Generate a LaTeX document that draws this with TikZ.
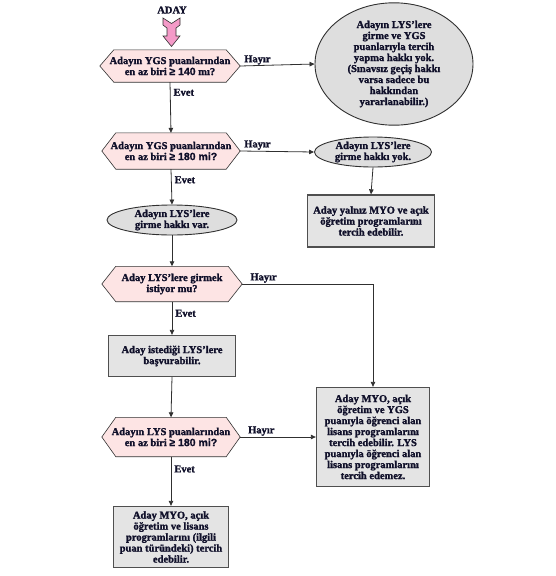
\documentclass[tikz,border=0pt]{standalone}
\usepackage{fontspec}
\setmainfont{Liberation Serif}
\newfontfamily\heavyfont{Liberation Serif Bold}[FakeBold=1.6]
\newfontfamily\numfont{Liberation Sans Bold}[FakeBold=1.2]
\usetikzlibrary{shapes.geometric,arrows.meta,backgrounds}
\definecolor{hexfill}{HTML}{FDE4E4}
\definecolor{grayfill}{HTML}{DEDEDE}
\definecolor{boxfill}{HTML}{E4E4E4}
\definecolor{linecol}{HTML}{303030}
\definecolor{txtcol}{HTML}{10102A}
\definecolor{arrowpink}{HTML}{F49AC8}
\begin{document}
\begin{tikzpicture}[x=1pt,y=-1pt,
  every node/.style={font=\fontsize{10.5}{11}\selectfont\heavyfont, text=txtcol, align=center, inner sep=0pt},
  hexnode/.style={rectangle},
  hexdraw/.style={draw=linecol, line width=0.6pt, fill=hexfill},
  ellnode/.style={draw=linecol, line width=0.9pt, fill=grayfill, ellipse},
  boxnode/.style={draw=linecol!85, line width=1.3pt, fill=boxfill, rectangle},
  conn/.style={draw=linecol, line width=0.8pt},
  arr/.style={conn, -{Triangle[length=5pt,width=4.5pt]}},
  lbl/.style={font=\fontsize{10.5}{11}\selectfont\heavyfont}
]
\useasboundingbox (0,0) rectangle (556,576);

\node (aday) at (172,10) {ADAY};
\draw[draw=linecol, line width=0.6pt, fill=arrowpink]
  (163,18) -- (171.5,23.5) -- (180,18) -- (180,25) -- (176,28) -- (176,36) -- (180,36)
  -- (171.5,46.5) -- (163,36) -- (167,36) -- (167,28) -- (163,25) -- cycle;

\node[hexnode, minimum width=140pt, minimum height=32pt] (d1) at (170,66)
  {Adayın YGS puanlarından\\en az biri {\numfont ≥ 140} mı?};
\node[ellnode, minimum width=158pt, minimum height=94pt] (e1) at (394,64)
  {Adayın LYS’lere\\girme ve YGS\\puanlarıyla tercih\\yapma hakkı yok.\\(Sınavsız geçiş hakkı\\varsa sadece bu\\hakkından\\yararlanabilir.)};

\node[hexnode, minimum width=138pt, minimum height=36pt] (d2) at (171,151)
  {Adayın YGS puanlarından\\en az biri {\numfont ≥ 180 mi?}};
\node[ellnode, minimum width=117pt, minimum height=30pt] (e2) at (373,152)
  {Adayın LYS’lere\\girme hakkı yok.};
\node[boxnode, minimum width=127pt, minimum height=52pt] (b1) at (371,221)
  {Aday yalnız MYO ve açık\\öğretim programlarını\\tercih edebilir.};

\node[ellnode, minimum width=130pt, minimum height=30pt] (e3) at (172,220)
  {Adayın LYS’lere\\girme hakkı var.};

\node[hexnode, minimum width=140pt, minimum height=35pt] (d3) at (172,284)
  {Aday LYS’lere girmek\\istiyor mu?};
\node[boxnode, minimum width=127pt, minimum height=41pt] (b2) at (172,356)
  {Aday istediği LYS’lere\\başvurabilir.};

\node[hexnode, minimum width=138pt, minimum height=39pt] (d4) at (171,437)
  {Adayın LYS puanlarından\\en az biri {\numfont ≥ 180 mi?}};
\node[boxnode, minimum width=113pt, minimum height=99pt] (b4) at (373,437)
  {Aday MYO, açık\\öğretim ve YGS\\puanıyla öğrenci alan\\lisans programlarını\\tercih edebilir. LYS\\puanıyla öğrenci alan\\lisans programlarını\\tercih edemez.};
\node[boxnode, minimum width=115pt, minimum height=61pt] (b5) at (171,537)
  {Aday MYO, açık\\öğretim ve lisans\\programlarını (ilgili\\puan türündeki) tercih\\edebilir.};

\begin{scope}[on background layer]
\foreach \h in {d1,d2,d3,d4}{
  \draw[hexdraw] (\h.west) -- ([xshift=14pt]\h.north west) -- ([xshift=-14pt]\h.north east)
    -- (\h.east) -- ([xshift=-14pt]\h.south east) -- ([xshift=14pt]\h.south west) -- cycle;
}
\end{scope}

% connectors
\draw[arr] (d1.east) -- (e1.west) node[pos=0.05, anchor=south west, lbl, yshift=1pt] {Hayır};
\draw[arr] (d1.south) -- (d2.north) node[pos=0.2, anchor=west, lbl, xshift=3pt] {Evet};
\draw[arr] (d2.east) -- (e2.west) node[pos=0.05, anchor=south west, lbl, yshift=1pt] {Hayır};
\draw[arr] (d2.south) -- (e3.north) node[pos=0.3, anchor=west, lbl, xshift=3pt] {Evet};
\draw[arr] (e2.south) -- (b1.north);
\draw[arr] (e3.south) -- (d3.north);
\draw[arr] (d3.east) -| (b4.north) node[pos=0.03, anchor=south west, lbl, yshift=1pt] {Hayır};
\draw[arr] (d3.south) -- (b2.north) node[pos=0.35, anchor=west, lbl, xshift=3pt] {Evet};
\draw[arr] (b2.south) -- (d4.north);
\draw[arr] (d4.east) -- (b4.west) node[pos=0.1, anchor=south west, lbl, yshift=1pt] {Hayır};
\draw[arr] (d4.south) -- (b5.north) node[pos=0.25, anchor=west, lbl, xshift=3pt] {Evet};
\end{tikzpicture}
\end{document}
